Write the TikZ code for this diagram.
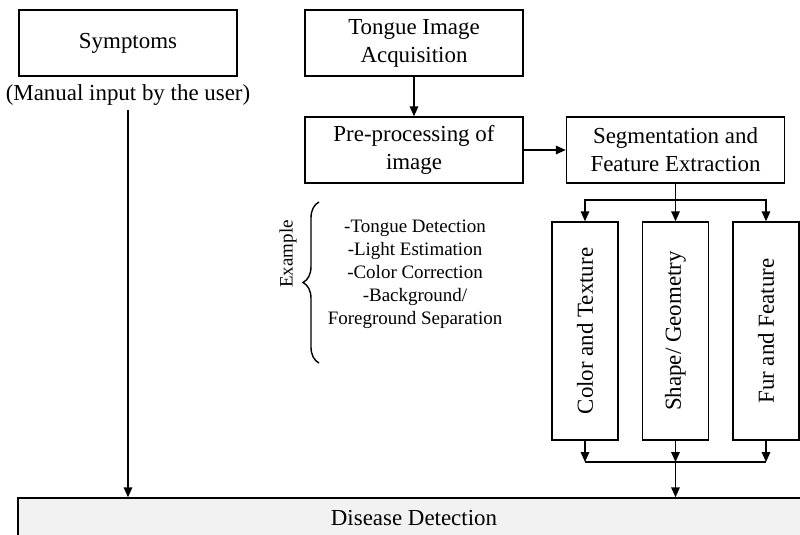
\documentclass[tikz,border=0pt]{standalone}
\usepackage{fontspec}
\setmainfont{Liberation Serif}
\usetikzlibrary{arrows.meta,decorations.pathreplacing}
\definecolor{diseasegray}{HTML}{F2F2F2}

\begin{document}
\begin{tikzpicture}[x=0.025cm, y=-0.025cm,
    box/.style={draw, line width=1pt, minimum width=5.45cm, minimum height=1.65cm,
      align=center, inner sep=2pt, font=\fontsize{16.3}{19.9}\selectfont},
    vbox/.style={box, rotate=90},
    arr/.style={line width=1pt, -{Triangle[length=7pt,width=6pt]}}]
    \useasboundingbox (0,0) rectangle (800,534);
    \clip (0,0) rectangle (800,534); % Disease box runs off the page

    % Top row
    \node[box] (symp)   at (128,43) {Symptoms};
    \node[font=\fontsize{16.3}{19.9}\selectfont] (manual) at (128,95) {(Manual input by the user)};
    \node[box] (tongue) at (414,43) {Tongue Image\\Acquisition};
    \node[box] (prep)   at (414,150) {Pre-processing of\\image};
    \node[box] (seg)    at (675.5,150) {Segmentation and\\Feature Extraction};

    % Feature boxes (rotated)
    \node[vbox] (colr) at (585,331) {Color and Texture};
    \node[vbox] (shp)  at (675.5,331) {Shape/ Geometry};
    \node[vbox] (fur)  at (766,331) {Fur and Feature};

    \node[box, fill=diseasegray, minimum width=19.8cm, minimum height=1cm] (dis) at (414,518) {Disease Detection};

    % Example list with brace
    \node[rotate=90, font=\fontsize{13.5}{16.3}\selectfont] (exlabel) at (288,254) {Example};
    \node[align=center, font=\fontsize{13.5}{16.3}\selectfont] (steps) at (415,274)
      {-Tongue Detection\\-Light Estimation\\-Color Correction\\-Background/\\Foreground Separation};
    \draw[line width=1pt, decorate, decoration={brace, amplitude=0.4cm}] (319,363) -- (319,202);

    % Connectors
    \draw[arr] (tongue) -- (prep);
    \draw[arr] (prep) -- (seg);
    \draw[arr] (manual.south) -- (manual.south |- dis.north);

    \coordinate (split) at (675.5,200);
    \draw[line width=1pt] (seg) -- (split);
    \draw[arr] (split) -| (colr.east);
    \draw[arr] (split) -- (shp.east);
    \draw[arr] (split) -| (fur.east);

    \coordinate (merge) at (675.5,462);
    \draw[arr] (colr.west) -- (colr.west |- merge);
    \draw[arr] (shp.west) -- (merge);
    \draw[arr] (fur.west) -- (fur.west |- merge);
    \draw[line width=1pt] (colr.west |- merge) -- (fur.west |- merge);
    \draw[arr] (merge) -- (merge |- dis.north);
\end{tikzpicture}
\end{document}
